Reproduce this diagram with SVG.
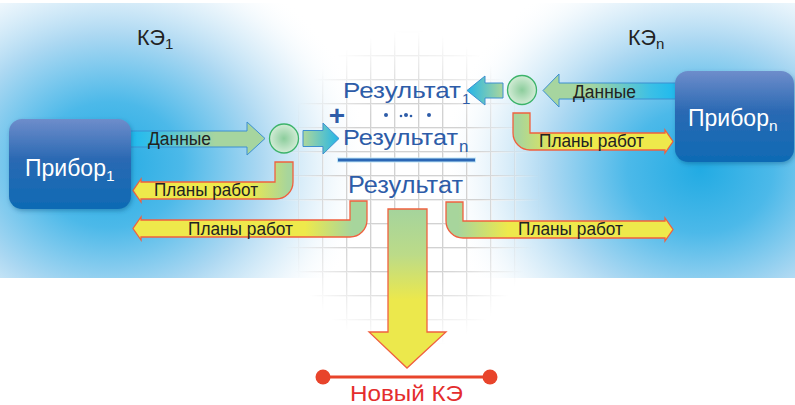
<svg xmlns="http://www.w3.org/2000/svg" width="795" height="405" viewBox="0 0 795 405">
  <defs>
    <style>
      .lbl { font-family: "Liberation Sans", Arial, sans-serif; fill: #222; }
      .res { font-family: "Liberation Sans", Arial, sans-serif; fill: #2d5ca8; }
      .dev { font-family: "Liberation Sans", Arial, sans-serif; fill: #fff; }
      .plan { stroke: #f0603f; stroke-width: 1.3; stroke-linejoin: miter; }
      .data { stroke: #3c8fd0; stroke-width: 1; }
      .hub { fill: url(#hubFill); stroke: #3cb36a; stroke-width: 1.3; }
    </style>
    <!-- background glows -->
    <radialGradient id="glowL" gradientUnits="userSpaceOnUse" cx="0" cy="0" r="1" gradientTransform="translate(110 165) scale(260 225)">
      <stop offset="0" stop-color="#22abe3"/>
      <stop offset="0.28" stop-color="#4cb9e9"/>
      <stop offset="0.58" stop-color="#acd8f2"/>
      <stop offset="0.82" stop-color="#e6f3fb" stop-opacity="0.8"/>
      <stop offset="1" stop-color="#ffffff" stop-opacity="0"/>
    </radialGradient>
    <radialGradient id="glowR" gradientUnits="userSpaceOnUse" cx="0" cy="0" r="1" gradientTransform="translate(700 170) scale(260 225)">
      <stop offset="0" stop-color="#22abe3"/>
      <stop offset="0.28" stop-color="#4cb9e9"/>
      <stop offset="0.58" stop-color="#acd8f2"/>
      <stop offset="0.82" stop-color="#e6f3fb" stop-opacity="0.8"/>
      <stop offset="1" stop-color="#ffffff" stop-opacity="0"/>
    </radialGradient>
    <!-- grid -->
    <pattern id="gridPat" patternUnits="userSpaceOnUse" x="10" y="7" width="24" height="24">
      <path d="M0 0.5H24M0.5 0V24" stroke="#efefef" stroke-width="3" fill="none"/>
      <path d="M0 0.5H24M0.5 0V24" stroke="#d2d2d2" stroke-width="1" fill="none"/>
    </pattern>
    <radialGradient id="gridFade" cx="0.5" cy="0.5" r="0.5">
      <stop offset="0" stop-color="#fff"/>
      <stop offset="0.55" stop-color="#fff"/>
      <stop offset="1" stop-color="#000"/>
    </radialGradient>
    <mask id="gridMask" maskUnits="userSpaceOnUse" x="0" y="0" width="795" height="405">
      <rect x="276" y="30" width="266" height="320" fill="url(#gridFade)"/>
    </mask>
    <!-- device box -->
    <linearGradient id="devFill" x1="0" y1="0" x2="0" y2="1">
      <stop offset="0" stop-color="#6e8dcb"/>
      <stop offset="0.45" stop-color="#2a69b3"/>
      <stop offset="1" stop-color="#0e6bb4"/>
    </linearGradient>
    <filter id="shadow" x="-20%" y="-20%" width="140%" height="150%">
      <feDropShadow dx="1" dy="2" stdDeviation="2" flood-color="#0a3a6a" flood-opacity="0.35"/>
    </filter>
    <radialGradient id="hubFill" cx="0.5" cy="0.5" r="0.5">
      <stop offset="0" stop-color="#8ccd9c"/>
      <stop offset="1" stop-color="#d3ecd6"/>
    </radialGradient>
    <!-- data arrows: cyan at device side, green at hub side -->
    <linearGradient id="dataL" gradientUnits="userSpaceOnUse" x1="135" y1="0" x2="215" y2="0">
      <stop offset="0" stop-color="#25bbec"/>
      <stop offset="0.25" stop-color="#3cc0e6"/>
      <stop offset="1" stop-color="#a6d59f"/>
    </linearGradient>
    <linearGradient id="dataR" gradientUnits="userSpaceOnUse" x1="670" y1="0" x2="590" y2="0">
      <stop offset="0" stop-color="#25bbec"/>
      <stop offset="0.25" stop-color="#3cc0e6"/>
      <stop offset="1" stop-color="#a6d59f"/>
    </linearGradient>
    <linearGradient id="mergeL" gradientUnits="userSpaceOnUse" x1="305" y1="0" x2="338" y2="0">
      <stop offset="0" stop-color="#a6d59f"/>
      <stop offset="1" stop-color="#26b6e6"/>
    </linearGradient>
    <linearGradient id="mergeR" gradientUnits="userSpaceOnUse" x1="502" y1="0" x2="468" y2="0">
      <stop offset="0" stop-color="#a6d59f"/>
      <stop offset="1" stop-color="#26b6e6"/>
    </linearGradient>
    <!-- work-plan arrows: green at the bend, yellow toward the tip -->
    <linearGradient id="planL1" gradientUnits="userSpaceOnUse" x1="288" y1="0" x2="248" y2="0">
      <stop offset="0" stop-color="#a7d59c"/>
      <stop offset="1" stop-color="#eee94b"/>
    </linearGradient>
    <linearGradient id="planL2" gradientUnits="userSpaceOnUse" x1="352" y1="0" x2="305" y2="0">
      <stop offset="0" stop-color="#a7d59c"/>
      <stop offset="1" stop-color="#eee94b"/>
    </linearGradient>
    <linearGradient id="planR1" gradientUnits="userSpaceOnUse" x1="518" y1="0" x2="560" y2="0">
      <stop offset="0" stop-color="#a7d59c"/>
      <stop offset="1" stop-color="#eee94b"/>
    </linearGradient>
    <linearGradient id="planR2" gradientUnits="userSpaceOnUse" x1="458" y1="0" x2="508" y2="0">
      <stop offset="0" stop-color="#a7d59c"/>
      <stop offset="1" stop-color="#eee94b"/>
    </linearGradient>
    <linearGradient id="downFill" gradientUnits="userSpaceOnUse" x1="0" y1="210" x2="0" y2="300">
      <stop offset="0" stop-color="#a5d49c"/>
      <stop offset="0.5" stop-color="#bcdb88"/>
      <stop offset="1" stop-color="#ece84c"/>
    </linearGradient>
  </defs>

  <!-- background -->
  <g id="background">
    <rect width="795" height="405" fill="#ffffff"/>
    <rect x="0" y="3" width="795" height="275" fill="url(#glowL)"/>
    <rect x="0" y="3" width="795" height="275" fill="url(#glowR)"/>
    <rect x="276" y="30" width="266" height="320" fill="url(#gridPat)" mask="url(#gridMask)"/>
  </g>

  <!-- connectors -->
  <g id="connectors">
    <!-- data from device 1 to hub -->
    <path class="data" d="M125,131 H247 V122 L265,138.5 L247,155 V147 H125 Z" fill="url(#dataL)"/>
    <!-- data from device n to hub -->
    <path class="data" d="M680,83 H559 V74 L543,90.5 L559,107 V99 H680 Z" fill="url(#dataR)"/>
    <!-- hub to result n -->
    <path class="data" d="M303,130.5 H323 V123 L339,138.5 L323,154 V146.5 H303 Z" fill="url(#mergeL)"/>
    <!-- hub to result 1 -->
    <path class="data" d="M503,83 H485 V76 L467,90.5 L485,105 V98 H503 Z" fill="url(#mergeR)"/>

    <!-- work plans back to device 1 -->
    <path class="plan" d="M275,162 H293 V182 A17,17 0 0 1 276,199 H141 V202 L133,190.5 L141,179 V182 H275 Z" fill="url(#planL1)"/>
    <path class="plan" d="M350,201 H367 V220 A17,17 0 0 1 350,237 H141 V240 L133,228.5 L141,217 V220 H350 Z" fill="url(#planL2)"/>
    <!-- work plans back to device n -->
    <path class="plan" d="M513,113 H530 V133 H665 V130 L673,141.5 L665,153 V150 H530 A17,17 0 0 1 513,133 Z" fill="url(#planR1)"/>
    <path class="plan" d="M446,202 H463 V221 H665 V218 L673,229.5 L665,241 V238 H463 A17,17 0 0 1 446,221 Z" fill="url(#planR2)"/>

    <!-- result to new KE -->
    <path class="plan" d="M388,209 H427 V332 H446 L407,368 L369,332 H388 Z" fill="url(#downFill)"/>

    <text class="lbl" x="148" y="145" font-size="18" textLength="63" lengthAdjust="spacingAndGlyphs">Данные</text>
    <text class="lbl" x="573" y="97.5" font-size="18" textLength="63" lengthAdjust="spacingAndGlyphs">Данные</text>
    <text class="lbl" x="154" y="196" font-size="17.5" textLength="104" lengthAdjust="spacingAndGlyphs">Планы работ</text>
    <text class="lbl" x="188" y="234.5" font-size="17.5" textLength="105" lengthAdjust="spacingAndGlyphs">Планы работ</text>
    <text class="lbl" x="539" y="147" font-size="17.5" textLength="105" lengthAdjust="spacingAndGlyphs">Планы работ</text>
    <text class="lbl" x="518" y="235" font-size="17.5" textLength="105" lengthAdjust="spacingAndGlyphs">Планы работ</text>
  </g>

  <!-- device 1 -->
  <g id="device-1">
    <rect x="9" y="119" width="122" height="90" rx="13" fill="url(#devFill)" filter="url(#shadow)"/>
    <text class="dev" x="25" y="176" font-size="23">Прибор<tspan font-size="15.5" dy="5">1</tspan></text>
  </g>

  <!-- device n -->
  <g id="device-n">
    <rect x="675" y="71" width="119" height="91" rx="13" fill="url(#devFill)" filter="url(#shadow)"/>
    <text class="dev" x="688" y="126" font-size="23">Прибор<tspan font-size="15.5" dy="5">n</tspan></text>
  </g>

  <!-- element labels -->
  <g id="ke-1">
    <text class="lbl" x="137" y="44.5" font-size="21.5">КЭ<tspan font-size="15" dy="4">1</tspan></text>
  </g>
  <g id="ke-n">
    <text class="lbl" x="628" y="44.5" font-size="21.5">КЭ<tspan font-size="15" dy="4">n</tspan></text>
  </g>

  <!-- hubs -->
  <g id="hub-1">
    <circle class="hub" cx="284" cy="138.5" r="14.5"/>
  </g>
  <g id="hub-n">
    <circle class="hub" cx="522" cy="90" r="14.5"/>
  </g>

  <!-- summation of results -->
  <g id="results">
    <text class="res" x="343" y="97.5" font-size="22" textLength="118" lengthAdjust="spacingAndGlyphs">Результат</text>
    <text class="res" x="462" y="104" font-size="15">1</text>
    <circle cx="386" cy="115" r="2" fill="#2d5ca8"/>
    <circle cx="401" cy="116" r="1.3" fill="#2d5ca8"/>
    <circle cx="406" cy="115" r="2" fill="#2d5ca8"/>
    <circle cx="411" cy="116" r="1.3" fill="#2d5ca8"/>
    <circle cx="429" cy="115" r="2" fill="#2d5ca8"/>
    <text class="res" x="337" y="125" font-size="28" font-weight="bold" text-anchor="middle">+</text>
    <text class="res" x="343" y="145" font-size="22" textLength="115" lengthAdjust="spacingAndGlyphs">Результат</text>
    <text class="res" x="459" y="151.5" font-size="17">n</text>
    <rect x="337" y="157.5" width="139" height="5" fill="#bfe6f7"/>
    <rect x="338" y="158.5" width="137" height="3" fill="#2b67b5"/>
    <text class="res" x="348" y="193" font-size="23" textLength="115" lengthAdjust="spacingAndGlyphs">Результат</text>
  </g>

  <!-- new element -->
  <g id="new-ke">
    <line x1="323" y1="377" x2="490" y2="377" stroke="#e8442b" stroke-width="3"/>
    <circle cx="323" cy="377" r="7.5" fill="#e8442b"/>
    <circle cx="490" cy="377" r="7.5" fill="#e8442b"/>
    <text x="350" y="401" font-family="Liberation Sans, Arial, sans-serif" font-size="22" fill="#e42d2d" textLength="113" lengthAdjust="spacingAndGlyphs">Новый КЭ</text>
  </g>
</svg>
